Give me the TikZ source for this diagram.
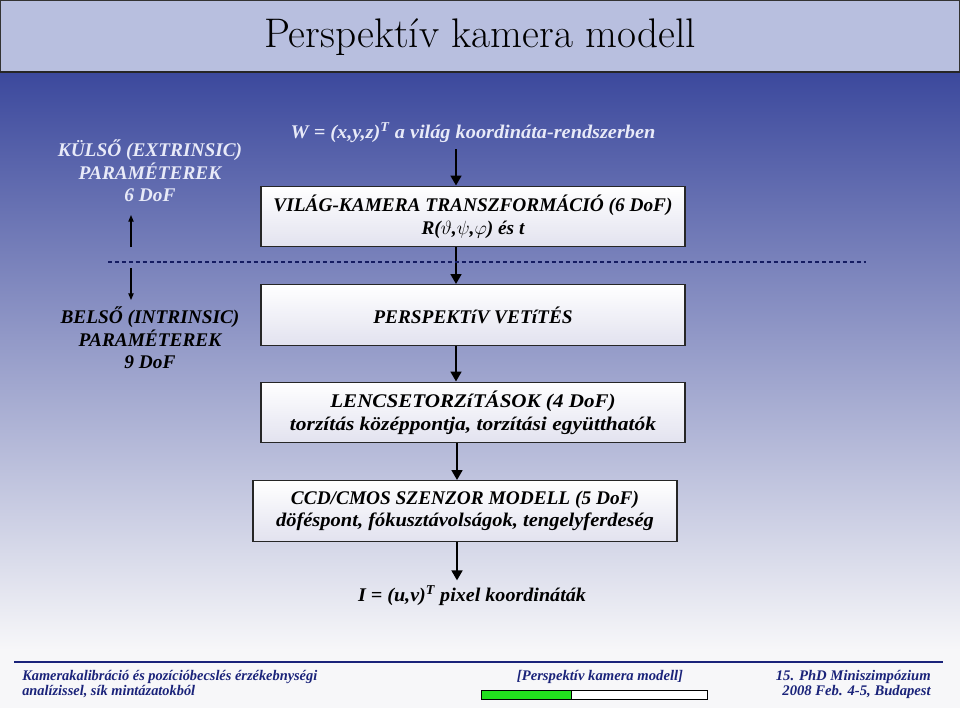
\documentclass[tikz,border=0pt]{standalone}
\usepackage{fontspec}
\newfontfamily\lib{Liberation Serif}
\usetikzlibrary{arrows.meta}
\newcommand\sx[2]{\scalebox{#1}[1]{#2}}
\definecolor{titlebg}{HTML}{B8BFDF}
\definecolor{bgtop}{HTML}{3C499D}
\definecolor{bgmid}{HTML}{A4A8D0}
\definecolor{bgbot}{HTML}{F7F7F9}
\definecolor{navy}{HTML}{1A237A}
\definecolor{lighttxt}{HTML}{E8EAF8}
\definecolor{boxbot}{HTML}{E2E2EF}
\definecolor{bargreen}{HTML}{22E01E}
\tikzset{
  stagebox/.style={draw=black!85, line width=0.9pt, top color=white, bottom color=boxbot,
    minimum width=318pt, minimum height=45.5pt, align=center, inner sep=0pt,
    font=\lib\fontsize{14.5pt}{17pt}\selectfont\bfseries\itshape},
  plain/.style={align=center, inner sep=0pt, font=\lib\fontsize{14.5pt}{17pt}\selectfont\bfseries\itshape},
  flow/.style={line width=2.2pt, -{Triangle[width=8pt,length=7.5pt]}},
  thinflow/.style={line width=0.8pt, -{Triangle[width=4pt,length=5pt]}},
  foot/.style={inner sep=0pt, text=navy, font=\lib\fontsize{11pt}{12pt}\selectfont\bfseries\itshape}
}
\begin{document}
\begin{tikzpicture}[x=0.75pt,y=-0.75pt]
\useasboundingbox (0,0) rectangle (960,708);
\fill[bgbot] (0,0) rectangle (960,708);
\shade[top color=bgtop, middle color=bgmid, bottom color=bgbot] (0,73) rectangle (960,650);
% title bar
\draw[fill=titlebg, draw=black!80, line width=0.8pt] (0.5,0.5) rectangle (959.5,72);
\draw[black!85, line width=1.6pt] (0,72) -- (960,72);
\node[inner sep=0pt, font=\fontsize{31pt}{36pt}\selectfont] (title) at (480,37) {Perspektív kamera modell};
% stages
\node[plain, text=lighttxt] (W) at (473,133) {\sx{1.05}{W = (x,y,z)\textsuperscript{T} a világ koordináta-rendszerben}};
\node[stagebox] (b1) at (473,216.5) {VILÁG-KAMERA TRANSZFORMÁCIÓ (6 DoF)\\R($\vartheta$,$\psi$,$\varphi$) és t};
\node[stagebox] (b2) at (473,315) {PERSPEKTíV VETíTÉS};
\node[stagebox] (b3) at (473,412.5) {\sx{1.09}{LENCSETORZíTÁSOK (4 DoF)}\\\sx{1.11}{torzítás középpontja, torzítási együtthatók}};
\node[stagebox] (b4) at (465,511) {CCD/CMOS SZENZOR MODELL (5 DoF)\\\sx{1.06}{döféspont, fókusztávolságok, tengelyferdeség}};
\node[plain] (I) at (472,596) {\sx{1.04}{I = (u,v)\textsuperscript{T} pixel koordináták}};
\coordinate (ax) at (456,0);
\coordinate (bx) at (457,0);
\draw[flow] (W.south -| ax) ++(0,6) -- (b1.north -| ax);
\draw[flow] (b1.south -| ax) -- (b2.north -| ax);
\draw[flow] (b2.south -| ax) -- (b3.north -| ax);
\draw[flow] (b3.south -| bx) -- (b4.north -| bx);
\draw[flow] (b4.south -| bx) -- ([yshift=4pt]I.north -| bx);
% left side
\node[plain, text=lighttxt] (ext) at (150,171) {KÜLSŐ (EXTRINSIC)\\PARAMÉTEREK\\6 DoF};
\node[plain] (int) at (150,338) {BELSŐ (INTRINSIC)\\PARAMÉTEREK\\9 DoF};
\coordinate (upS) at (131,247);
\coordinate (upE) at (131,215);
\coordinate (dnS) at (131,268);
\coordinate (dnE) at (131,300);
\draw[thinflow] (upS) -- (upE);
\draw[thinflow] (dnS) -- (dnE);
\coordinate (dL) at (108,262);
\coordinate (dR) at (866,262);
\draw[navy!80!black, line width=0.8pt, dash pattern=on 3pt off 2.2pt] (dL) -- (dR);
% footer
\draw[navy, line width=1.2pt] (14,662) -- (943,662);
\node[foot, anchor=west] (fl1) at (22,677) {\sx{0.98}{Kamerakalibráció és pozícióbecslés érzékebnységi}};
\node[foot, anchor=west] (fl2) at (22,692) {\sx{0.98}{analízissel, sík mintázatokból}};
\node[foot] (fc) at (600,677) {\sx{1.0}{[Perspektív kamera modell]}};
\node[foot, anchor=east] (fr1) at (931,677) {\sx{1.0}{15. PhD Miniszimpózium}};
\node[foot, anchor=east] (fr2) at (931,692) {\sx{1.0}{2008 Feb. 4-5, Budapest}};
\fill[white] (481,690) rectangle (707,699);
\fill[bargreen] (481,690) rectangle (571,699);
\draw[black, line width=0.7pt] (481,690) rectangle (707,699);
\draw[black, line width=0.5pt] (571,690) -- (571,699);
\end{tikzpicture}
\end{document}
